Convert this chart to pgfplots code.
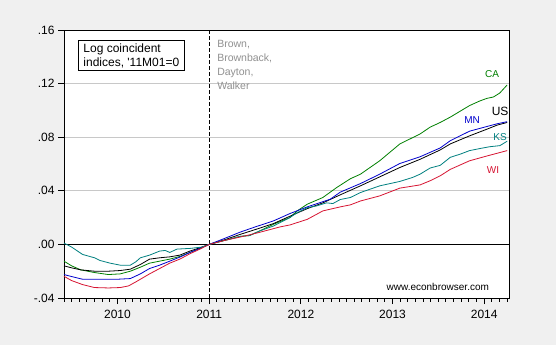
\documentclass[border=0pt]{standalone}
\usepackage{fontspec}
\setmainfont{Liberation Sans}
\usepackage{pgfplots}
\pgfplotsset{compat=1.18}
\definecolor{bg}{RGB}{240,240,240}
\definecolor{caG}{RGB}{0,128,0}
\definecolor{mnB}{RGB}{0,0,205}
\definecolor{ksT}{RGB}{0,128,128}
\definecolor{wiR}{RGB}{215,20,50}
\definecolor{gridG}{RGB}{200,200,200}
\definecolor{txtG}{RGB}{145,145,145}
\begin{document}
\begin{tikzpicture}
\fill[bg] (0,0) rectangle (556bp,345bp);
\begin{axis}[
  at={(64bp,47bp)}, anchor=south west,
  scale only axis, width=445bp, height=268bp,
  xmin=2009.417, xmax=2014.27, ymin=-0.04, ymax=0.16,
  axis background/.style={fill=white},
  axis line style={black, line width=0.9bp},
  xtick={2010,2011,2012,2013,2014},
  xticklabels={2010,2011,2012,2013,2014},
  minor xtick={2009.41667,2009.5,...,2014.26},
  ytick={-0.04,0,0.04,0.08,0.12,0.16},
  yticklabels={-.04,.00,.04,.08,.12,.16},
  xtick pos=bottom, ytick pos=left,
  tick align=outside,
  major tick length=6bp, minor tick length=3.5bp,
  every tick/.style={black, line width=0.8bp},
  ymajorgrids, grid style={gridG, line width=0.8bp},
  ticklabel style={font=\fontsize{12bp}{14bp}\selectfont},
  xticklabel style={yshift=-3bp},
  /pgf/number format/assume math mode=true,
  clip=true,
]
\addplot[black, line width=0.9bp, forget plot] coordinates {(2009.3,0) (2014.4,0)};
\addplot[black, line width=0.9bp, dash pattern=on 4bp off 2bp, forget plot] coordinates {(2011,-0.04) (2011,0.16)};
% CA
\addplot[caG, line width=0.8bp] coordinates {
(2009.417,-0.0125) (2009.5,-0.016) (2009.6,-0.019) (2009.75,-0.021) (2009.9,-0.0225)
(2010.03,-0.022) (2010.14,-0.020) (2010.25,-0.017) (2010.35,-0.014) (2010.46,-0.0125)
(2010.57,-0.011) (2010.68,-0.009) (2010.79,-0.006) (2010.9,-0.003) (2011.0,0)
(2011.17,0.003) (2011.34,0.006) (2011.44,0.0066) (2011.55,0.010) (2011.70,0.015)
(2011.88,0.020) (2011.96,0.025) (2012.07,0.030) (2012.24,0.035) (2012.39,0.0424)
(2012.54,0.049) (2012.65,0.0524) (2012.86,0.0624) (2013.08,0.075) (2013.30,0.0824)
(2013.41,0.0875) (2013.52,0.091) (2013.63,0.095) (2013.84,0.1036) (2013.95,0.107)
(2014.03,0.109) (2014.1,0.110) (2014.17,0.113) (2014.25,0.119)};
% US
\addplot[black, line width=0.8bp] coordinates {
(2009.417,-0.016) (2009.5,-0.0175) (2009.6,-0.019) (2009.75,-0.020) (2009.9,-0.020)
(2010.03,-0.0195) (2010.14,-0.0185) (2010.25,-0.015) (2010.35,-0.011) (2010.46,-0.010)
(2010.57,-0.0093) (2010.68,-0.008) (2010.79,-0.005) (2010.9,-0.0025) (2011.0,0)
(2011.17,0.0035) (2011.34,0.0075) (2011.5,0.011) (2011.7,0.0155) (2011.88,0.021)
(2012.07,0.0267) (2012.24,0.031) (2012.43,0.037) (2012.65,0.0437) (2012.86,0.0504)
(2013.08,0.0574) (2013.30,0.0635) (2013.52,0.0705) (2013.63,0.075) (2013.84,0.081)
(2014.03,0.086) (2014.14,0.089) (2014.25,0.091)};
% MN
\addplot[mnB, line width=0.8bp] coordinates {
(2009.417,-0.0225) (2009.5,-0.024) (2009.62,-0.026) (2009.8,-0.026) (2010.0,-0.026)
(2010.14,-0.0255) (2010.25,-0.022) (2010.35,-0.018) (2010.46,-0.0155) (2010.57,-0.0125)
(2010.68,-0.0095) (2010.79,-0.006) (2010.9,-0.003) (2011.0,0) (2011.17,0.0045)
(2011.34,0.0092) (2011.5,0.013) (2011.7,0.0175) (2011.88,0.023) (2012.07,0.028)
(2012.32,0.0337) (2012.43,0.039) (2012.65,0.0454) (2012.86,0.0524) (2013.08,0.0604)
(2013.30,0.0654) (2013.52,0.072) (2013.63,0.0774) (2013.84,0.0845) (2014.03,0.088)
(2014.14,0.090) (2014.25,0.0916)};
% KS
\addplot[ksT, line width=0.8bp] coordinates {
(2009.417,0.001) (2009.5,-0.002) (2009.62,-0.0075) (2009.75,-0.010) (2009.81,-0.012)
(2009.92,-0.014) (2010.03,-0.0155) (2010.14,-0.0155) (2010.2,-0.013) (2010.25,-0.010)
(2010.35,-0.008) (2010.46,-0.005) (2010.52,-0.0045) (2010.57,-0.006) (2010.65,-0.0035)
(2010.79,-0.003) (2010.92,-0.002) (2011.0,0) (2011.17,0.003) (2011.34,0.006)
(2011.44,0.0066) (2011.55,0.010) (2011.70,0.0137) (2011.88,0.020) (2011.96,0.0237)
(2012.07,0.0274) (2012.17,0.0287) (2012.28,0.031) (2012.35,0.0305) (2012.43,0.0335)
(2012.54,0.035) (2012.65,0.0387) (2012.86,0.0437) (2013.08,0.047) (2013.22,0.050)
(2013.30,0.0524) (2013.41,0.057) (2013.52,0.059) (2013.63,0.065) (2013.74,0.0674)
(2013.84,0.070) (2013.95,0.0715) (2014.06,0.0729) (2014.17,0.0737) (2014.25,0.077)};
% WI
\addplot[wiR, line width=0.8bp] coordinates {
(2009.417,-0.0238) (2009.5,-0.027) (2009.62,-0.030) (2009.75,-0.0322) (2009.9,-0.0325)
(2010.03,-0.0322) (2010.12,-0.031) (2010.2,-0.028) (2010.35,-0.022) (2010.46,-0.018)
(2010.57,-0.014) (2010.68,-0.011) (2010.79,-0.007) (2010.9,-0.0035) (2011.0,0)
(2011.17,0.003) (2011.34,0.0055) (2011.55,0.009) (2011.77,0.013) (2011.88,0.0145)
(2012.07,0.0187) (2012.24,0.025) (2012.43,0.028) (2012.54,0.0295) (2012.65,0.0324)
(2012.86,0.0362) (2013.08,0.042) (2013.30,0.0444) (2013.41,0.0475) (2013.52,0.0512)
(2013.63,0.056) (2013.84,0.0624) (2014.03,0.066) (2014.14,0.068) (2014.25,0.070)};
% annotations
\node[draw=black, line width=0.8bp, fill=white, anchor=north west, align=left,
  inner xsep=5bp, inner ysep=3bp, font=\fontsize{12bp}{14bp}\selectfont]
  at (rel axis cs:0.0315,0.963) {Log coincident\\indices, \textquotesingle11M01=0};
\node[anchor=north west, align=left, inner sep=0pt, text=txtG,
  font=\fontsize{10.5bp}{14bp}\selectfont]
  at (rel axis cs:0.344,0.962) {Brown,\\Brownback,\\Dayton,\\Walker};
\node[text=caG, font=\fontsize{10bp}{12bp}\selectfont] at (rel axis cs:0.962,0.836) {CA};
\node[text=black, font=\fontsize{12bp}{14bp}\selectfont] at (rel axis cs:0.980,0.698) {US};
\node[text=mnB, font=\fontsize{10bp}{12bp}\selectfont] at (rel axis cs:0.917,0.664) {MN};
\node[text=ksT, font=\fontsize{10bp}{12bp}\selectfont] at (rel axis cs:0.980,0.601) {KS};
\node[text=wiR, font=\fontsize{10bp}{12bp}\selectfont] at (rel axis cs:0.964,0.478) {WI};
\node[text=black, font=\fontsize{10bp}{12bp}\selectfont] at (rel axis cs:0.840,0.041) {www.econbrowser.com};
\end{axis}
\end{tikzpicture}
\end{document}
